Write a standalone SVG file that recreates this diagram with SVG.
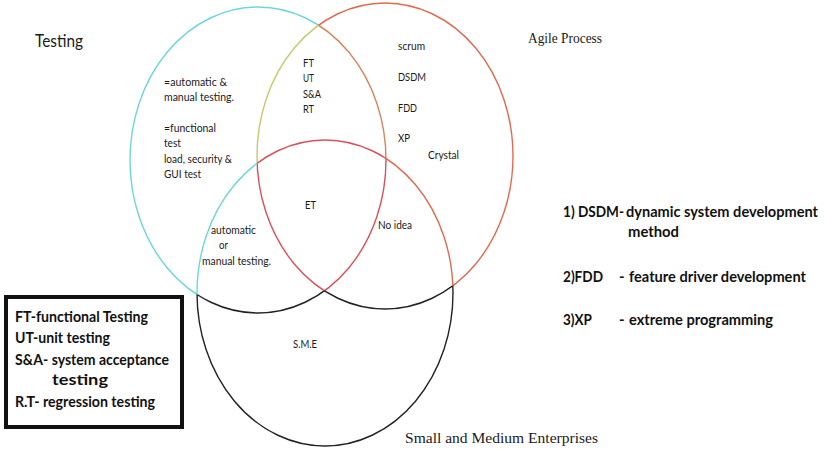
<svg xmlns="http://www.w3.org/2000/svg" xmlns:xlink="http://www.w3.org/1999/xlink" width="827" height="450" viewBox="0 0 827 450">
  <style>
    .arc { fill: none; stroke-width: 1.4; }
    .lbl { font-family: Lato, "Open Sans", sans-serif; font-size: 12px; fill: #1a1a1a; }
    .ttl { font-family: Lato, "Open Sans", sans-serif; font-size: 17px; fill: #1a1a1a; }
    .ser { font-family: "Liberation Serif", "Times New Roman", serif; font-size: 14px; fill: #1a1a1a; }
    .leg { font-family: Lato, "Open Sans", sans-serif; font-size: 15px; font-weight: 700; fill: #111; }
    .cyan { stroke: #6dd6dc; }
    .brown { stroke: #d4865a; }
    .yell { stroke: #c8c868; }
    .red { stroke: #d9505a; }
    .orng { stroke: #e06a50; }
    .blk { stroke: #222; }
  </style>
  <defs>
    <path id="eT" d="M130,160 a128,153 0 1,0 256,0 a128,153 0 1,0 -256,0 Z"/>
    <path id="eA" d="M257,156 a128,153 0 1,0 256,0 a128,153 0 1,0 -256,0 Z"/>
    <path id="eS" d="M197,293 a128,153 0 1,0 256,0 a128,153 0 1,0 -256,0 Z"/>
    <clipPath id="inT"><use xlink:href="#eT"/></clipPath>
    <clipPath id="inA"><use xlink:href="#eA"/></clipPath>
    <clipPath id="inS"><use xlink:href="#eS"/></clipPath>
    <clipPath id="outT"><path clip-rule="evenodd" d="M-10,-10H840V460H-10Z M130,160 a128,153 0 1,0 256,0 a128,153 0 1,0 -256,0 Z"/></clipPath>
    <clipPath id="outA"><path clip-rule="evenodd" d="M-10,-10H840V460H-10Z M257,156 a128,153 0 1,0 256,0 a128,153 0 1,0 -256,0 Z"/></clipPath>
    <clipPath id="outS"><path clip-rule="evenodd" d="M-10,-10H840V460H-10Z M197,293 a128,153 0 1,0 256,0 a128,153 0 1,0 -256,0 Z"/></clipPath>
  </defs>

  <rect width="827" height="450" fill="#ffffff"/>

  <g id="set-testing">
    <g clip-path="url(#outA)"><use xlink:href="#eT" class="arc cyan" clip-path="url(#outS)"/></g>
    <g clip-path="url(#inA)"><use xlink:href="#eT" class="arc brown" clip-path="url(#outS)"/></g>
    <g clip-path="url(#inA)"><use xlink:href="#eT" class="arc red" clip-path="url(#inS)"/></g>
    <g clip-path="url(#outA)"><use xlink:href="#eT" class="arc blk" clip-path="url(#inS)"/></g>
    <text class="ttl" x="35" y="47" textLength="48" lengthAdjust="spacingAndGlyphs">Testing</text>
  </g>

  <g id="set-agile">
    <g clip-path="url(#outT)"><use xlink:href="#eA" class="arc orng" clip-path="url(#outS)"/></g>
    <g clip-path="url(#inT)"><use xlink:href="#eA" class="arc yell" clip-path="url(#outS)"/></g>
    <g clip-path="url(#inT)"><use xlink:href="#eA" class="arc red" clip-path="url(#inS)"/></g>
    <g clip-path="url(#outT)"><use xlink:href="#eA" class="arc blk" clip-path="url(#inS)"/></g>
    <text class="ser" x="528" y="43" textLength="74" lengthAdjust="spacingAndGlyphs">Agile Process</text>
  </g>

  <g id="set-sme">
    <g clip-path="url(#outT)"><use xlink:href="#eS" class="arc blk" clip-path="url(#outA)"/></g>
    <g clip-path="url(#inT)"><use xlink:href="#eS" class="arc cyan" clip-path="url(#outA)"/></g>
    <g clip-path="url(#inT)"><use xlink:href="#eS" class="arc red" clip-path="url(#inA)"/></g>
    <g clip-path="url(#outT)"><use xlink:href="#eS" class="arc orng" clip-path="url(#inA)"/></g>
    <text class="ser" x="405" y="443" textLength="193" lengthAdjust="spacingAndGlyphs">Small and Medium Enterprises</text>
  </g>

  <g id="region-testing-only">
    <text class="lbl" x="164" y="86" textLength="63" lengthAdjust="spacingAndGlyphs">=automatic  &amp;</text>
    <text class="lbl" x="164" y="101" textLength="70" lengthAdjust="spacingAndGlyphs">manual testing.</text>
    <text class="lbl" x="164" y="132" textLength="52" lengthAdjust="spacingAndGlyphs">=functional</text>
    <text class="lbl" x="164" y="147" textLength="17" lengthAdjust="spacingAndGlyphs">test</text>
    <text class="lbl" x="164" y="163" textLength="68" lengthAdjust="spacingAndGlyphs">load, security &amp;</text>
    <text class="lbl" x="164" y="178" textLength="37" lengthAdjust="spacingAndGlyphs">GUI  test</text>
  </g>

  <g id="region-testing-agile">
    <text class="lbl" x="303" y="67" textLength="11" lengthAdjust="spacingAndGlyphs">FT</text>
    <text class="lbl" x="303" y="82" textLength="11" lengthAdjust="spacingAndGlyphs">UT</text>
    <text class="lbl" x="303" y="98" textLength="18" lengthAdjust="spacingAndGlyphs">S&amp;A</text>
    <text class="lbl" x="303" y="113" textLength="11" lengthAdjust="spacingAndGlyphs">RT</text>
  </g>

  <g id="region-agile-only">
    <text class="lbl" x="398" y="50" textLength="27" lengthAdjust="spacingAndGlyphs">scrum</text>
    <text class="lbl" x="398" y="81" textLength="28" lengthAdjust="spacingAndGlyphs">DSDM</text>
    <text class="lbl" x="398" y="112" textLength="19" lengthAdjust="spacingAndGlyphs">FDD</text>
    <text class="lbl" x="398" y="142" textLength="12" lengthAdjust="spacingAndGlyphs">XP</text>
    <text class="lbl" x="428" y="159" textLength="31" lengthAdjust="spacingAndGlyphs">Crystal</text>
  </g>

  <g id="region-all">
    <text class="lbl" x="305" y="209" textLength="11" lengthAdjust="spacingAndGlyphs">ET</text>
  </g>

  <g id="region-agile-sme">
    <text class="lbl" x="378" y="229" textLength="34" lengthAdjust="spacingAndGlyphs">No idea</text>
  </g>

  <g id="region-testing-sme">
    <text class="lbl" x="211" y="234" textLength="45" lengthAdjust="spacingAndGlyphs">automatic</text>
    <text class="lbl" x="219" y="249" textLength="9" lengthAdjust="spacingAndGlyphs">or</text>
    <text class="lbl" x="202" y="265" textLength="69" lengthAdjust="spacingAndGlyphs">manual testing.</text>
  </g>

  <g id="region-sme-only">
    <text class="lbl" x="293" y="348" textLength="24" lengthAdjust="spacingAndGlyphs">S.M.E</text>
  </g>

  <g id="legend-box">
    <rect x="6" y="297" width="176" height="130" fill="none" stroke="#111" stroke-width="4"/>
    <text class="leg" x="15" y="322" textLength="133" lengthAdjust="spacingAndGlyphs">FT-functional  Testing</text>
    <text class="leg" x="15" y="343" textLength="95" lengthAdjust="spacingAndGlyphs">UT-unit testing</text>
    <text class="leg" x="15" y="365" textLength="154" lengthAdjust="spacingAndGlyphs">S&amp;A- system acceptance</text>
    <text class="leg" x="52" y="385" textLength="56" lengthAdjust="spacingAndGlyphs">testing</text>
    <text class="leg" x="15" y="407" textLength="140" lengthAdjust="spacingAndGlyphs">R.T- regression testing</text>
  </g>

  <g id="legend-agile">
    <text class="leg" x="563" y="217" textLength="61" lengthAdjust="spacingAndGlyphs">1) DSDM-</text>
    <text class="leg" x="626" y="217" textLength="192" lengthAdjust="spacingAndGlyphs">dynamic system development</text>
    <text class="leg" x="628" y="237" textLength="51" lengthAdjust="spacingAndGlyphs">method</text>
    <text class="leg" x="563" y="282" textLength="40" lengthAdjust="spacingAndGlyphs">2)FDD</text>
    <text class="leg" x="619" y="282">-</text>
    <text class="leg" x="629" y="282" textLength="177" lengthAdjust="spacingAndGlyphs">feature driver development</text>
    <text class="leg" x="563" y="325" textLength="29" lengthAdjust="spacingAndGlyphs">3)XP</text>
    <text class="leg" x="619" y="325">-</text>
    <text class="leg" x="629" y="325" textLength="144" lengthAdjust="spacingAndGlyphs">extreme programming</text>
  </g>

  <g id="connectors"></g>
</svg>
